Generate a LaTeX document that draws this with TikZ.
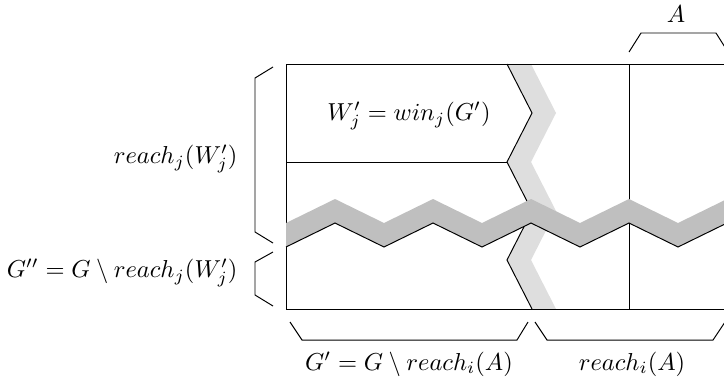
\documentclass[tikz,border=0pt]{standalone}
\begin{document}
\begin{tikzpicture}[x=0.408pt,y=-0.408pt,
  lightband/.style={fill=black!13},
  darkband/.style={fill=black!25},
  brk/.style={draw=black, line width=0.4pt},
  lbl/.style={inner sep=0pt}]
\useasboundingbox (0,0) rectangle (724,387);
\begin{scope}
\clip (0,0) rectangle (724,387);
% light vertical zigzag band
\fill[lightband] (507,64)--(532,113)--(507,162)--(532,211)--(507,260)--(532,309)
  --(556,309)--(531,260)--(556,211)--(531,162)--(556,113)--(531,64)--cycle;
% frame and dividers
\draw (740,64) -- (286,64) -- (286,309) -- (740,309);
\draw (286,162) -- (507,162);
\draw (629,64) -- (629,309);
\draw (507,64)--(532,113)--(507,162)--(532,211)--(507,260)--(532,309);
% dark horizontal zigzag band
\fill[darkband] (286,247)--(335,223)--(384,247)--(433,223)--(482,247)--(531,223)--(580,247)--(629,223)--(678,247)--(727,223)--(776,247)
  --(776,223)--(727,199)--(678,223)--(629,199)--(580,223)--(531,199)--(482,223)--(433,199)--(384,223)--(335,199)--(286,223)--cycle;
\draw (286,247)--(335,223)--(384,247)--(433,223)--(482,247)--(531,223)--(580,247)--(629,223)--(678,247)--(727,223)--(776,247);
% brackets
\draw[brk] (273,67)--(255,78)--(255,232)--(273,243);
\draw[brk] (273,252)--(255,262)--(255,295)--(273,306);
\draw[brk] (290,322)--(302,340)--(517,340)--(528,322);
\draw[brk] (535,322)--(547,340)--(713,340)--(725,322);
\draw[brk] (629,52)--(641,33)--(716,33)--(728,52);
\end{scope}
% labels
\node[lbl] (wj) at (409,116) {$W'_j = win_j(G')$};
\node[lbl] (A) at (676,14) {$A$};
\node[lbl] (gp) at (409,364) {$G' = G \setminus reach_i(A)$};
\node[lbl] (ri) at (632,364) {$reach_i(A)$};
\node[lbl,anchor=east] (rj) at (238,159) {$reach_j(W'_j)$};
\node[lbl,anchor=east] (gpp) at (238,273) {$G'' = G \setminus reach_j(W'_j)$};
\end{tikzpicture}
\end{document}
